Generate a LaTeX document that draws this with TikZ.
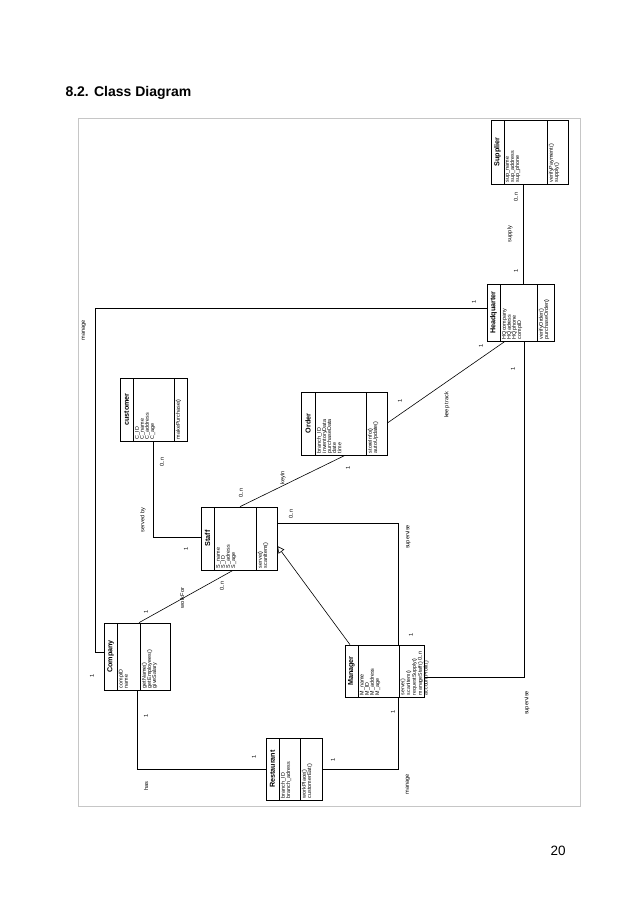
\documentclass[tikz,border=0pt]{standalone}
\usepackage{fontspec}
\setmainfont{Liberation Sans}
\usetikzlibrary{fit,arrows.meta}

\tikzset{
  classbox/.style={draw, line width=0.7pt, inner sep=0pt},
  cname/.style={rotate=90, inner sep=0pt, font=\fontsize{7.2}{8}\selectfont\bfseries},
  members/.style={rotate=90, anchor=north west, align=left, inner sep=0.8pt, font=\fontsize{5.4}{5.1}\selectfont},
  mult/.style={rotate=90, inner sep=0pt, font=\fontsize{5.6}{6}\selectfont},
  assoc/.style={line width=0.6pt},
}

\begin{document}
\begin{tikzpicture}[x=1pt, y=-1pt]
	\useasboundingbox (0,0) rectangle (638,903);
	\node[anchor=base west, font=\fontsize{14}{16}\selectfont\bfseries] (title) at (62,96) {8.2. Class Diagram};
	\node[anchor=base west, font=\fontsize{13.5}{16}\selectfont] (pagenum) at (547,855) {20};
	\draw[gray!45, line width=0.6pt] (78,118) rectangle (580,806);

	% classes
	\node[classbox, fit={(491,120) (568,184)}] (sup) {};
	\draw (504,120) -- (504,184) (547,120) -- (547,184);
	\node[cname] (supN) at (497.5,152) {Supplier};
	\node[members] (supA) at (505,183) {sup\_name\\sup\_address\\sup\_phone};
	\node[members] (supO) at (548,183) {verifyPayment()\\supply()};

	\node[classbox, fit={(487,284) (554,341)}] (hq) {};
	\draw (500,284) -- (500,341) (537,284) -- (537,341);
	\node[cname] (hqN) at (493.5,312.5) {Headquarter};
	\node[members] (hqA) at (501,340) {HQcompany\\HQadress\\HQphone\\compID};
	\node[members] (hqO) at (538,340) {verifyOrder()\\purchaseOrder()};

	\node[classbox, fit={(120,378) (187,441)}] (cust) {};
	\draw (133,378) -- (133,441) (174,378) -- (174,441);
	\node[cname] (custN) at (126.5,409.5) {customer};
	\node[members] (custA) at (134,440) {C\_ID\\C\_name\\C\_address\\C\_age};
	\node[members] (custO) at (175,440) {makePurchase()};

	\node[classbox, fit={(301,392) (387,455)}] (order) {};
	\draw (315,392) -- (315,455) (366,392) -- (366,455);
	\node[cname] (orderN) at (308,423.5) {Order};
	\node[members] (orderA) at (316,454) {branch\_ID\\inventoryData\\purchaseData\\date\\time};
	\node[members] (orderO) at (367,454) {storeInfo()\\autoUpdate()};

	\node[classbox, fit={(201,507) (277,570)}] (staff) {};
	\draw (214,507) -- (214,570) (256,507) -- (256,570);
	\node[cname] (staffN) at (207.5,538.5) {Staff};
	\node[members] (staffA) at (215,569) {S\_name\\S\_ID\\S\_adress\\S\_age};
	\node[members] (staffO) at (257,569) {serve()\\scanItem()};

	\node[classbox, fit={(104,623) (170,690)}] (comp) {};
	\draw (117,623) -- (117,690) (140,623) -- (140,690);
	\node[cname] (compN) at (110.5,656.5) {Company};
	\node[members] (compA) at (118,689) {compID\\name};
	\node[members] (compO) at (141,689) {getName()\\getEmployees()\\giveSalary};

	\node[classbox, fit={(345,645) (424,697)}] (mgr) {};
	\draw (358,645) -- (358,697) (399,645) -- (399,697);
	\node[cname] (mgrN) at (351.5,671) {Manager};
	\node[members] (mgrA) at (359,696) {M\_name\\M\_ID\\M\_address\\M\_age};
	\node[members, font=\fontsize{5.2}{4.8}\selectfont] (mgrO) at (399.5,696) {serve()\\scanItem()\\requestSupply()\\manageStaff()\\accountProfit()};

	\node[classbox, fit={(266,738) (322,800)}] (rest) {};
	\draw (279,738) -- (279,800) (300,738) -- (300,800);
	\node[cname] (restN) at (272.5,769) {Restaurant};
	\node[members] (restA) at (280,799) {branch\_ID\\branch\_adress};
	\node[members] (restO) at (301,799) {workPlace()\\customerEat()};

	% associations
	\draw[assoc] (sup.south -| 523,0) -- (hq.north -| 523,0);
	\node[mult] (supM) at (516,197) {0..n};
	\node[mult] (supL) at (510,234) {supply};
	\node[mult] (hqM1) at (516,271) {1};

	\draw[assoc] (hq.west |- 0,308) -| (95,652) -- (comp.west |- 0,652);
	\node[mult] (hqM2) at (474,302) {1};
	\node[mult] (manL1) at (84,330) {manage};
	\node[mult] (compM1) at (92,676) {1};

	\draw[assoc] (comp.north -| 139,0) -- (staff.south -| 233,0);
	\node[mult] (compM2) at (146,612) {1};
	\node[mult] (workL) at (182,598) {workFor};
	\node[mult] (staffM1) at (222,586) {0..n};

	\draw[assoc] (cust.south -| 153,0) |- (staff.west |- 0,537);
	\node[mult] (custM) at (162,462) {0..n};
	\node[mult] (servL) at (143,520) {served by};
	\node[mult] (staffM2) at (186,549) {1};

	\draw[assoc] (staff.north -| 240,0) -- (order.south -| 345,0);
	\node[mult] (staffM3) at (241,493) {0..n};
	\node[mult] (keyL) at (283,478) {keyIn};
	\node[mult] (orderM1) at (348,468) {1};

	\draw[assoc] (order.east |- 0,423) -- (hq.south -| 505,0);
	\node[mult] (orderM2) at (400,401) {1};
	\node[mult] (trackL) at (447,405) {keep track};
	\node[mult] (hqM3) at (481,346) {1};

	\draw[assoc] (hq.south -| 524,0) |- (mgr.east |- 0,677);
	\node[mult] (hqM4) at (513,369) {1};
	\node[mult] (supvL1) at (527,703) {supervise};
	\node[mult] (mgrM1) at (420,656) {0..n};

	\draw[assoc] (staff.east |- 0,523) -| (mgr.north -| 398,0);
	\node[mult] (staffM4) at (291,514) {0..n};
	\node[mult] (supvL2) at (408,537) {supervise};
	\node[mult] (mgrM2) at (411,635) {1};

	\draw[assoc, -{Triangle[open, length=7pt, width=7pt]}] (mgr.north -| 350,0) -- (staff.east |- 0,546);

	\draw[assoc] (comp.south -| 137,0) |- (rest.west |- 0,769);
	\node[mult] (compM3) at (146,716) {1};
	\node[mult] (hasL) at (146,786) {has};
	\node[mult] (restM1) at (254,757) {1};

	\draw[assoc] (rest.east |- 0,769) -| (mgr.south -| 398,0);
	\node[mult] (restM2) at (333,760) {1};
	\node[mult] (manL2) at (408,784) {manage};
	\node[mult] (mgrM3) at (393,712) {1};
\end{tikzpicture}
\end{document}
